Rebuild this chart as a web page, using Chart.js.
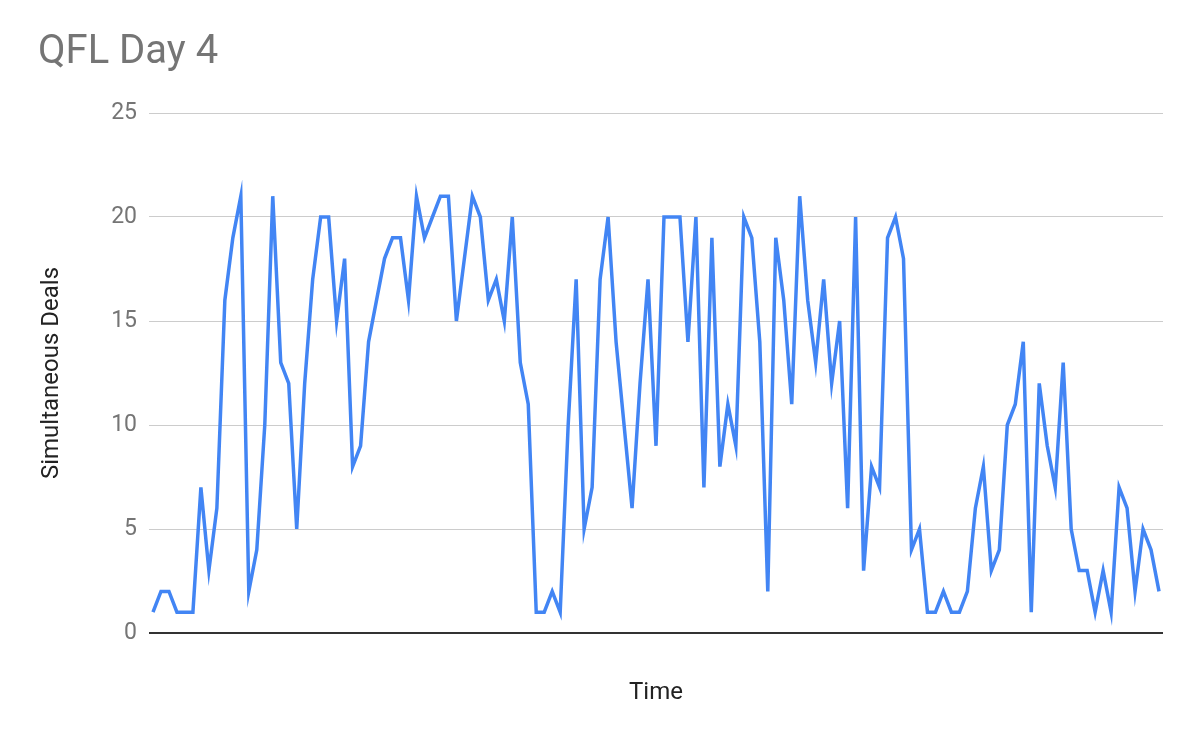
<!DOCTYPE html>
<html>
<head>
<meta charset="utf-8">
<script src="https://cdn.jsdelivr.net/npm/chart.js@4/dist/chart.umd.min.js"></script>
<style>
  html, body { margin: 0; padding: 0; background: #ffffff; }
  #wrap { width: 1200px; height: 742px; }
</style>
</head>
<body>
<div id="wrap"><canvas id="c" width="1200" height="742"></canvas></div>
<script>
const chartTitle = 'QFL Day 4';
const xAxisTitle = 'Time';
const yAxisTitle = 'Simultaneous Deals';
const seriesName = 'Simultaneous Deals';
const deals = [
  1, 2, 2, 1, 1, 1, 7, 3, 6, 16, 19, 21, 2, 4, 10, 21, 13, 12, 5, 12, 17, 20, 20, 15, 18,
  8, 9, 14, 16, 18, 19, 19, 16, 21, 19, 20, 21, 21, 15, 18, 21, 20, 16, 17, 15, 20, 13, 11, 1, 1,
  2, 1, 10, 17, 5, 7, 17, 20, 14, 10, 6, 12, 17, 9, 20, 20, 20, 14, 20, 7, 19, 8, 11, 9, 20,
  19, 14, 2, 19, 16, 11, 21, 16, 13, 17, 12, 15, 6, 20, 3, 8, 7, 19, 20, 18, 4, 5, 1, 1, 2,
  1, 1, 2, 6, 8, 3, 4, 10, 11, 14, 1, 12, 9, 7, 13, 5, 3, 3, 1, 3, 1, 7, 6, 2, 5, 4, 2
];
const timeLabels = deals.map((_, i) => String(i + 1));
const yTicks = [0, 5, 10, 15, 20, 25];

const FONT = 'Roboto, "Open Sans", Arial, sans-serif';

new Chart(document.getElementById('c'), {
  type: 'line',
  data: {
    labels: timeLabels,
    datasets: [{
      label: seriesName,
      data: deals,
      borderColor: '#4285f4',
      backgroundColor: '#4285f4',
      borderWidth: 3.5,
      pointRadius: 0,
      pointHoverRadius: 0,
      tension: 0,
      fill: false
    }]
  },
  options: {
    responsive: false,
    animation: false,
    events: [],
    layout: { padding: { left: 38, right: 37, top: 0, bottom: 34.6 } },
    plugins: {
      legend: { display: false },
      tooltip: { enabled: false },
      title: {
        display: true,
        text: chartTitle,
        align: 'start',
        color: '#757575',
        font: { family: FONT, size: 40, weight: 'normal', lineHeight: 1.2 },
        padding: { top: 29, bottom: 36 }
      }
    },
    scales: {
      x: {
        type: 'category',
        offset: true,
        grid: { display: false, drawTicks: false },
        border: { display: false },
        ticks: { display: false },
        title: {
          display: true,
          text: xAxisTitle,
          color: '#222222',
          font: { family: FONT, size: 24, weight: 'normal', lineHeight: 1.2 },
          padding: { top: 0, bottom: 0 }
        },
        afterFit: (s) => { s.height = 74.4; }
      },
      y: {
        min: yTicks[0],
        max: yTicks[yTicks.length - 1],
        afterBuildTicks: (s) => { s.ticks = yTicks.map(v => ({ value: v })); },
        grid: {
          drawTicks: false,
          color: (ctx) => ctx.tick && ctx.tick.value === 0 ? '#333333' : '#cccccc',
          lineWidth: (ctx) => ctx.tick && ctx.tick.value === 0 ? 2 : 1
        },
        border: { display: false },
        ticks: {
          padding: 12,
          color: '#757575',
          font: { family: FONT, size: 23, weight: 'normal' }
        },
        title: {
          display: true,
          text: yAxisTitle,
          color: '#222222',
          font: { family: FONT, size: 24, weight: 'normal', lineHeight: 1.2 },
          padding: { top: 0, bottom: 0 }
        },
        afterFit: (s) => { s.width = 111; }
      }
    }
  }
});
</script>
</body>
</html>
